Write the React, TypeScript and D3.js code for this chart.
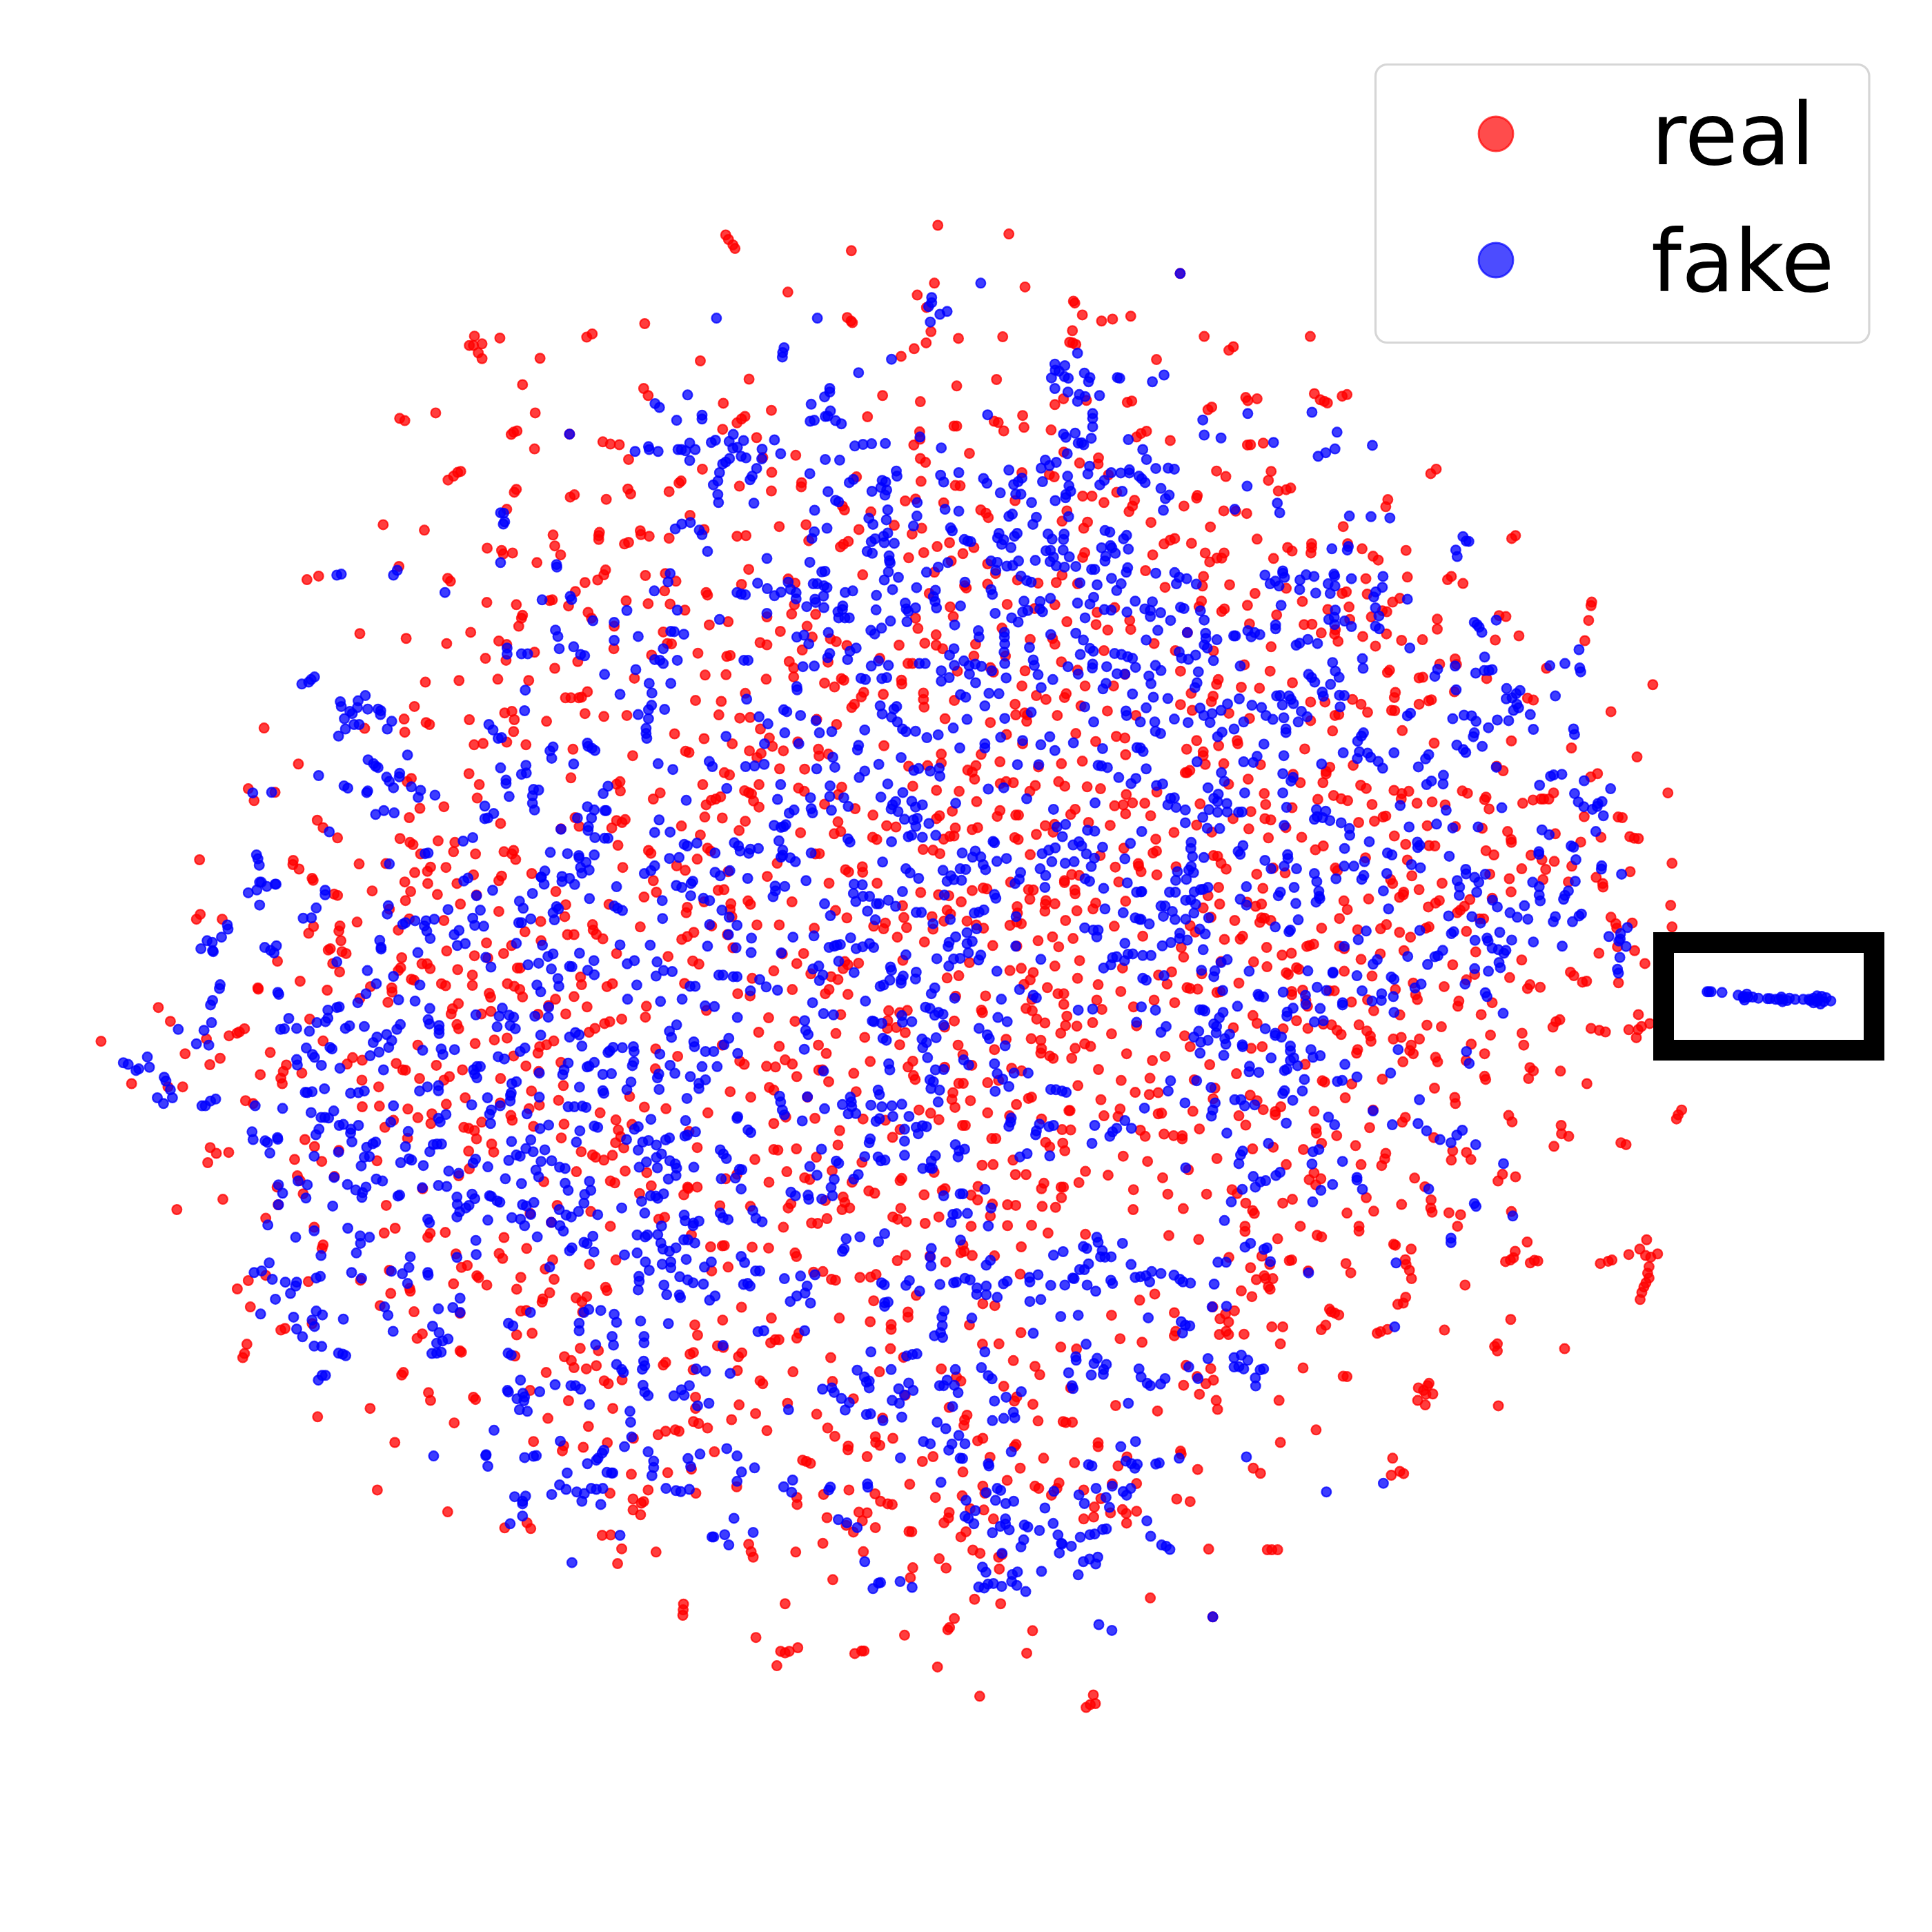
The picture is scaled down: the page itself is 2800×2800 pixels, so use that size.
import React, { useMemo } from "react";
import * as d3 from "d3";

const real11 = [1121,359,1106,388,1118,388,1143,383,1132,411,1143,429,1195,365,1448,362,1464,352,1312,428,1261,510,1298,598,1008,598,903,615,918,622,1245,654,1235,658,1228,665,1296,710,1495,688,1517,695,1543,697,1570,743,1081,780,1072,783,1060,795,1044,807,1243,836,1237,845,1400,860,1412,853,1505,867,1568,835,1215,898,855,946,975,963,1485,970,1483,980,1483,992,1350,978,1355,1012,1372,1040,1558,1006,1158,1019,1200,1026,1205,1037,1232,1034,1303,1064,1503,1087,1498,1102,1480,1118,1443,1126,633,1117,667,1106,901,1076,1043,1113,1051,1122,1415,1154,1157,1188,1243,1195,1340,1182,1348,1180,1395,1199,1563,1183,1452,1219,1462,1237,1261,1228,1258,1237,1250,1262,1528,1262,787,1285,922,1300,1040,1316,1110,1281,1192,1308,1215,1319,1296,1343,1153,1362,1213,1368,1422,1372,1527,1332,1355,1393,978,1436,1076,1431,1189,1427,1279,1431,1450,1466,1386,1485,1402,1485,1425,1485,1433,1483,946,1512,1209,1532,1230,1527,1237,1553,1443,1534,1498,1543,1565,1540,916,1551,980,1562,990,1568,1106,1553,1331,1558,1398,664];
const fake11 = [1398,664,1197,909,1206,910,1209,937,1205,944,1197,1064,1360,1070,1361,1078,720,1103,733,1100,885,1103,896,1088,1035,1157,1318,1180,1400,1169,1404,1179,1565,1213,1466,1245,1528,1250,1357,1274,1364,1294,1528,1306,1216,1330,1216,1349,1258,1348,1276,1348,1368,1332,1410,1326,1430,1350,1442,1354,1500,1412,655,1420,645,1428,638,1436,618,1442,803,1478,782,1494,730,1497,733,1512,758,1527,765,1534,780,1515,810,1520,840,1520,848,1525,847,1537,742,1550,880,1558,1269,1461,1267,1525,1545,1474,1163,1568,770,1568,785,1568];
const real12 = [285,44,293,58,306,75,312,86,651,93,903,14,1110,41,466,222,893,194,1157,206,843,231,1298,250,1302,256,1324,293,1380,312,1412,306,1465,297,49,320,639,301,650,312,654,317,870,270,883,345,963,366,1092,361,1295,342,1287,378,1296,380,1305,385,869,380,834,398,796,422,211,436,353,493,1074,494,958,514,1540,432,46,522,59,544,742,544,852,563,1269,554,1244,572,1336,559,1455,565,1468,561,278,568,418,590,698,610,1150,606,341,609,331,617,318,629,1067,624,1079,628,1095,654,1154,643,950,639,958,639,276,649,850,657,851,680,1233,651,1511,655,1495,662,1482,673,375,675,833,698,995,724,489,730,1270,720,393,737,852,740,867,752,1316,754,1371,738,1370,757,217,773,419,783,1148,784,1228,790,1242,797,1400,791,666,797,506,815,505,828,155,810,149,816,325,826,854,811,954,824,968,825,418,841,120,843,8,831,8,850,12,745,808,872,838,866,920,878,1325,857,1352,857,1128,871,1387,877,1424,845,1476,870,1470,888,1460,905,181,917,631,900,625,888,708,906,1028,900,1043,910,1050,924,1279,903,1339,938,1265,935,776,948,519,946,441,952,1524,939,222,961,36,965,38,977,62,982,318,982,344,980,120,988,1328,957,856,957,673,961,828,975,527,996,642,998,628,1007,619,1015,937,1002,1562,1006,2,1001,901,1014,1008,1017,976,1036,862,1033,1331,1033,1325,1048,818,1049,1529,1040,1048,1068,942,1059,352,1085,109,1098,51,1104,684,1102,893,1094,1071,1098,1508,1089,1265,1103,467,1115,487,1128,140,1122,331,1132,107,1152,228,1157,232,1165,1135,1118,1195,1128,1248,1126,1310,1130,1048,1131,981,1136,986,1143,1565,1141,878,1160,59,1192,123,1193,166,1212,485,1195,1105,1194,939,1202,1244,1195,1185,1207,1418,1204,1367,1219,477,1224,547,1225,405,1233,838,1237,948,1232,292,1248,237,1258,522,1262,1279,1248,1462,1244,1364,1257,845,1269,1090,1268,1465,1272,1398,1274,444,1278,103,1280,537,1296,590,1301,607,1310,898,1289,1172,1303,1237,1300,1244,1318,1013,1318,115,1316,127,1317,385,1313,405,1320,865,1315,638,1322,898,1321,917,1332,790,1321,1533,1316,508,1336,204,1346,1387,1338,69,1352,298,1353,288,1356,734,1362,1008,1355,1100,1355,470,1372,1263,1373,816,1378,829,1378,583,1374,483,1392,1056,1391,1065,1405,960,1402,1157,1401,1310,1399,225,1414,286,1413,19,1424,483,1420,403,1427,1448,1412,622,1425,629,1430,797,1430,798,1442,573,1439,602,1451,1148,1448,1332,1448,1415,1448,342,1471,687,1468,680,1482,744,1474,861,1470,861,1490,863,1514,1190,1478,1277,1472,1272,1484,1218,1490,197,1493,272,1496,951,1493,660,1505,652,1515,1128,1505,1320,1510,265,1538,326,1548,356,1546,1130,1538,1156,1532,1164,1538,1251,1540,1397,1526,924,1550,1480,1540,550,1552,1056,1562,608,1568,1162,1558];
const fake12 = [1028,194,885,239,885,255,876,267,930,282,909,291,881,315,258,303,552,303,455,395,451,410,450,424,1310,412,768,431,1244,446,1273,451,1245,465,1256,468,1330,474,1346,488,1234,489,1272,485,1283,490,1342,501,1426,488,1433,490,1528,501,1562,480,672,473,1244,522,1282,533,174,542,588,522,588,533,573,548,1315,541,1332,547,1374,544,1310,562,79,569,92,581,534,571,590,592,575,609,582,608,605,622,622,632,531,624,543,621,216,605,216,617,142,621,1048,604,1354,600,1354,615,1354,641,1269,664,1276,674,1303,661,851,673,1350,677,1458,681,427,682,307,665,337,684,180,692,255,683,243,690,295,687,1312,692,1322,691,1328,697,661,701,685,696,710,694,750,693,913,707,60,703,62,712,21,718,88,718,146,712,156,712,168,716,196,712,306,708,319,705,391,711,445,725,180,746,296,740,1500,712,330,733,344,738,390,741,285,751,276,757,575,743,617,745,1280,725,1216,745,1248,752,1511,743,267,784,375,771,1204,770,1228,762,1345,764,1538,771,964,784,1110,776,1340,788,1408,784,1436,785,1461,785,1461,775,1489,795,1497,803,1507,815,782,779,784,795,530,787,362,795,356,806,262,810,249,822,911,792,920,813,1036,802,1046,817,1148,801,1137,812,1124,821,1208,812,1281,795,741,808,751,813,645,815,657,805,1375,822,1388,808,1553,833,737,830,754,838,749,854,711,842,583,843,1085,847,1130,851,1145,851,1285,825,1290,842,1276,852,1440,842,1275,862,262,852,264,877,367,879,605,870,614,875,843,877,1245,871,1176,877,1566,865,544,901,757,900,924,898,964,904,1560,901,842,919,702,926,1120,913,1110,920,1190,923,753,931,714,945,1284,921,1180,945,182,939,157,944,138,959,208,963,216,977,832,950,940,956,945,965,543,968,580,957,1081,973,1134,973,1126,982,1224,975,1271,975,1390,964,1404,969,1453,979,1444,990,757,972,745,982,536,989,720,990,709,999,747,1002,776,1004,1077,987,1095,993,1089,1007,1116,1017,980,992,990,997,999,999,1236,991,1269,992,232,1029,697,1029,712,1035,1406,1011,1380,1018,1410,1018,1458,1022,1268,1025,1218,1027,1231,1026,1420,1035,1392,1044,405,1051,761,1043,762,1058,1240,1047,1390,1059,1286,1046,530,1063,764,1065,1058,1059,1076,1063,1230,1061,1187,1057,1138,1059,932,1064,1248,1074,1272,1078,1305,1076,1351,1085,1360,1085,1104,1075,1121,1073,1072,1088,904,1078,870,1094,1456,1080,1452,1094,565,1093,574,1091,759,1093,1538,1097,1145,1106,1162,1120,1175,1125,788,1110,747,1118,1409,1113,123,1098,117,1124,467,1125,378,1128,540,1130,552,1130,571,1136,580,1142,982,1125,1317,1127,1367,1133,1437,1130,771,1148,841,1142,406,1145,896,1150,77,1152,655,1152,446,1156,427,1167,490,1158,474,1147,1424,1151,318,1157,330,1162,342,1164,633,1157,1058,1148,1062,1163,570,1168,490,1177,724,1166,890,1170,1231,1175,1357,1172,545,1178,547,1188,808,1190,895,1185,899,1205,969,1199,1154,1184,1201,1185,1310,1190,1346,1193,1478,1184,1528,1186,626,1199,838,1205,1200,1208,521,1201,571,1204,1388,1210,1408,1212,1506,1208,1522,1213,1552,1220,723,1211,811,1208,817,1216,612,1217,144,1212,6,1207,1070,1222,1165,1213,1150,1218,1208,1217,1454,1218,405,1222,625,1210,614,1236,632,1236,645,1236,267,1241,1118,1236,1137,1249,1332,1236,1522,1232,765,1246,813,1248,952,1258,1305,1284,708,1275,719,1286,739,1268,1021,1276,1023,1296,1097,1281,1097,1296,125,1278,135,1279,163,1287,584,1282,30,1294,1232,1288,1544,1275,513,1290,492,1296,1327,1305,1510,1305,1098,1317,527,1317,103,1332,665,1330,950,1332,1346,1331,1356,1340,1096,1343,1170,1328,1418,1347,1438,1350,1456,1357,647,1340,937,1352,588,1347,1318,1350,582,1360,78,1366,93,1368,103,1378,144,1368,338,1368,350,1368,1181,1367,1470,1362,640,1366,1098,1378,730,1370,979,1370,1184,1384,1479,1390,1354,1380,849,1378,866,1378,994,1385,1012,1380,1030,1387,510,1388,543,1386,709,1386,759,1384,951,1384,1282,1388,1395,1388,1353,1392,23,1397,1537,1384,1553,1400,913,1401,1060,1401,1195,1413,1312,1411,1425,1410,1448,1411,995,1411,1013,1438,1102,1423,1238,1428,679,1424,692,1428,740,1425,754,1422,936,1422,913,1433,1518,1417,62,1440,125,1440,1393,1440,1524,1441,1384,1457,492,1450,493,1460,1204,1453,969,1475,984,1483,1052,1471,1081,1472,1470,1473,70,1470,346,1489,1531,1483,69,1508,60,1522,107,1521,30,1537,60,1550,1040,1510,735,1510,783,1512,1510,1516,454,1522,463,1528,741,1535,775,1520,503,1540,382,1544,1451,1526,1331,1513,1453,1540,1175,1530,1098,1549,768,1545,988,1552,1357,1560,1535,1560,1493,1560,548,1556,408,1566,785,1560];
const real13 = [41,164,111,360,420,360,196,392,183,403,432,538,449,557,461,562,470,567,513,546,527,541,232,550,238,560,265,554,122,588,133,580,12,684,237,698,246,697,283,692,787,773,771,787,147,779,174,796,306,780,298,808,327,841,350,837,363,832,91,855,89,863,52,888,168,903,203,904,235,911,646,868,640,890,516,952,129,953,265,991,1018,980,1007,989,25,989,12,994,74,1004,424,1005,424,1017,422,1034,354,1017,367,1028,529,1005,571,1021,603,1044,618,1056,699,1026,114,1034,169,1034,148,1050,162,1050,127,1062,313,1051,109,1107,582,1114,703,1109,831,1107,820,1117,865,1129,106,1137,185,1133,350,1144,259,1160,513,1160,525,1155,586,1162,103,1184,660,1187,681,1175,96,1201,237,1197,397,1185,170,1208,162,1216,533,1202,471,1210,322,1227,643,1217,630,1214,598,1233,535,1241,243,1255,402,1257,425,1256,790,1240,990,1232,970,1229,1240,1187,1238,1198,1231,1244,62,1282,452,1283,493,1273,491,1287,642,1286,790,1271,573,1294,747,1304,686,1306,959,1305,1028,1292,1220,1307,501,1309,306,1326,610,1324,138,1339,27,1338,228,1382,797,1380,842,1364,846,1381,42,1402,303,1402,651,1399,645,1406,748,1421,737,1423,934,1425,1108,1393,152,1428,147,1443,368,1438,219,1452,272,1455,1418,1444,73,1471,137,1480,132,1497,668,1468,665,1484,42,1506,421,1498,463,1498,543,1490,568,1505,773,1491,765,1494,737,1505,840,1466,76,1524,183,1533,243,1549,492,1540,503,1537,587,1530,657,1524,666,1525,1053,1486,1070,1492,1296,1528,421,1556];
const fake13 = [41,164,5,478,107,620,238,600,425,596,111,667,160,676,313,690,498,658,492,710,465,722,443,733,601,699,6,770,24,773,236,826,9,854,5,865,200,898,324,879,331,909,534,919,597,921,652,925,865,983,874,997,882,998,844,1025,848,1045,483,1021,528,1025,531,1014,340,1090,340,1097,25,1095,60,1114,38,1110,288,1103,345,1110,408,1102,431,1107,489,1100,491,1106,540,1114,632,1107,318,1122,303,1130,329,1137,390,1118,30,1130,88,1131,472,1130,492,1137,389,1148,436,1159,478,1160,630,1141,611,1155,605,1171,42,1203,52,1207,100,1214,335,1197,610,1205,493,1212,703,1178,620,1230,111,1243,13,1244,474,1241,490,1234,520,1246,491,1257,540,1263,962,1243,898,1250,906,1257,912,1265,920,1281,610,1262,621,1270,319,1258,319,1270,238,1276,258,1282,273,1288,248,1295,62,1282,115,1284,116,1300,148,1304,111,1320,120,1330,202,1292,197,1292,413,1303,441,1316,389,1315,379,1321,38,1342,86,1352,45,1361,65,1365,710,1330,1203,1335,138,1369,572,1363,928,1358,485,1375,216,1386,574,1393,1118,1385,1162,1378,1205,1392,1208,1404,791,1396,842,1386,927,1400,950,1397,940,1400,902,1408,94,1404,493,1402,415,1412,424,1422,504,1421,783,1418,433,1436,90,1438,84,1453,479,1443,845,1460,455,1467,458,1480,992,1456,1031,1462,1020,1472,991,1488,1008,1485,1134,1479,322,1479,332,1478,358,1479,364,1490,371,1503,505,1477,519,1478,213,1488,250,1508,339,1507,5,1487,179,1504,99,1517,278,1515,507,1513,134,1534,160,1524,110,1540,24,1551,64,1562,394,1527,291,1540,311,1552,343,1547,411,1544,385,1560,226,1560,1022,1505,1027,1516,1012,1524,1061,1537,712,1533,703,1541,835,1550,868,1539,890,1541,903,1558,965,1554,998,1556,128,1562];
const real21 = [33,986,508,11,801,12,918,24,980,2,992,6,1120,63,1146,59,1215,55,1235,22,1271,63,1408,77,608,123,1105,153,1402,166,937,168,925,178,1135,187,462,200,540,211,479,237,1545,178,1535,186,1546,207,1129,229,1032,256,962,261,931,290,663,298,680,321,722,353,1197,308,1414,290,1535,299,1560,296,1521,322,1426,317,1373,325,1551,305,904,355,933,367,942,374,1015,362,1064,367,1060,396,964,403,1124,403,1207,396,1235,392,1230,403,1241,420,1539,376,320,421,593,423,592,436,610,450,785,434,863,433,1038,445,993,444,984,457,947,461,1118,468,1553,445,1200,472,1192,486,1288,464,648,479,651,485,918,490,985,495,1070,495,823,518,935,520,1013,529,1127,531,1358,520,712,528,722,532,920,548,1080,559,1192,582,1387,561,1513,560,322,591,311,606,386,606,873,575,779,615,931,605,1032,610,1384,598,1314,613,652,629,729,627,726,643,638,650,899,640,1268,645,1465,623,1467,640,1476,653,1495,667,1392,654,1411,654,732,673,1315,673,1156,680,701,698,695,702,735,707,747,713,1040,705,1229,688,1206,713,1121,720,547,737,1160,727,909,726,1535,713,708,744,968,745,983,745,992,760,906,757,899,766,1254,758,1246,758,1072,763,728,770,1115,780,1430,786,937,793,945,796,613,799,490,820,491,824,692,827,1025,807,1037,813,1115,812,1217,807,1237,815,1253,825,1433,810,1523,807,1507,816,880,820,881,833,818,816,1164,837,1168,849,1261,848,787,853,1411,847,869,865,1357,855,1074,869,1057,885,1053,901,200,881,1337,875,1449,879,1306,902,1387,901,1169,893,1141,901,235,924,641,917,1550,917,1515,925,1500,931,1070,934,1075,947,1472,946,1455,958,406,969,429,961,436,957,451,947,340,979,1216,976,1179,982,1352,985,1331,997,1311,1003,1306,1023,1123,993,680,985,956,998,278,1025,526,1021,380,1039,1235,1032,350,1059,766,1037,750,1057,794,1045,893,1055,912,1075,920,1076,1010,1061,1373,1052,1271,1063,573,1060,564,1080,497,1090,618,1085,557,1101,561,1118,122,1118,271,1128,228,1128,1086,1075,1048,1096,1032,1107,961,1102,793,1107,842,1128,1197,1102,1308,1080,1380,1124,1287,1141,1094,1162,454,1171,476,1180,1366,1170,1196,1178,1039,1182,794,1190,844,1188,927,1197,1310,1185,1280,1196,1487,1209,997,1212,956,1224,1227,1217,1231,1232,994,1242,885,1232,1142,1238,860,1254,1533,1231,1382,1244,1293,1251,1540,1262,1090,1254,1104,1257,1121,1264,1127,1290,1547,1283,926,1288,627,1292,1374,1287,1532,1302,655,1314,351,1317,369,1335,405,1332,726,1326,1171,1306,1556,1318,1104,1328,1177,1331,1432,1330,344,1364,597,1354,676,1360,837,1358,1465,1340,1474,1347,1498,1356,1523,1341,1106,1383,1418,1392,1560,1390,605,1405,613,1420,713,1407,1075,1405,1517,1421,1530,1427,1323,1423,546,1440,970,1445,622,1461,864,1497,388,1478,254,1510,549,1495,1362,1497,1283,1522,1460,1516,513,1537,654,1565,890,1568,1517,1562,1345,1550];
const fake21 = [725,36,745,14,771,8,788,8,867,14,1165,7,1175,17,1190,43,1200,41,926,95,1346,105,1341,82,1350,70,1450,58,1452,68,1463,74,1472,81,811,110,827,122,833,130,840,134,1197,135,1271,127,1410,123,1258,155,1272,151,667,159,903,152,902,163,865,164,873,177,1213,173,1213,184,741,191,752,198,885,197,937,194,964,205,810,207,807,212,1006,220,1222,224,1293,202,1308,204,1290,222,1496,215,1510,192,475,213,530,211,957,227,1290,245,1151,254,1296,266,1177,277,1160,291,1151,293,1450,256,1470,266,1501,268,1505,268,1421,291,1462,291,857,268,833,280,887,275,698,334,1373,326,1453,318,1452,330,1472,352,1500,354,1510,354,1116,352,1088,363,986,400,977,402,1342,398,1392,402,1425,408,1426,415,1470,406,486,406,490,418,494,438,873,434,1446,429,1430,445,1455,453,1434,463,1326,456,1315,475,1376,473,1398,479,1376,489,1413,498,1324,497,1316,475,1102,478,1090,487,495,491,500,491,516,504,540,497,543,497,487,515,462,524,686,516,686,530,1174,516,1290,526,1535,505,1127,533,1252,550,1456,542,495,562,870,564,660,571,1263,572,1044,576,1138,578,1360,567,1366,574,1528,565,1538,572,1552,579,1350,586,867,590,622,603,646,602,1004,606,948,611,980,611,1116,603,1354,608,1250,617,1258,617,1285,605,920,617,912,622,975,627,982,643,1122,625,1148,628,401,624,403,637,384,662,1076,641,1062,654,342,673,357,678,324,698,358,704,360,707,992,666,845,672,849,694,849,699,1094,682,1071,688,1243,681,1319,687,1545,686,510,694,544,689,527,703,537,711,956,710,1427,712,1350,714,1335,722,1154,725,720,739,1469,735,1277,748,1308,743,1169,755,1398,753,1405,754,1345,761,1451,765,1470,779,1566,745,809,766,885,784,1364,791,1367,815,835,807,805,838,962,811,1303,811,1314,832,380,810,378,822,548,834,551,840,781,866,358,859,352,873,900,857,948,861,1567,855,991,884,1337,880,727,879,694,889,720,881,1202,883,580,915,694,914,687,925,662,928,1125,904,1193,908,1222,905,1235,911,1297,908,1336,911,986,919,990,932,355,928,905,934,895,949,1018,937,1018,950,1187,941,1225,937,1240,947,258,949,556,949,567,947,603,946,640,955,745,946,757,938,800,940,333,952,1018,962,865,965,837,973,1415,959,1426,966,1398,973,1314,967,826,990,880,984,871,1005,311,994,347,998,1434,1001,631,1007,700,1005,706,1010,1024,1010,1063,1012,970,1014,1029,1027,1268,1007,1254,1018,1525,1005,1552,1006,1510,1021,1515,1016,603,1043,605,1060,649,1027,655,1036,843,1020,817,1031,1190,1034,1208,1041,168,1035,174,1067,98,1053,112,1058,143,1072,135,1077,675,1061,729,1070,856,1075,1128,1065,1138,1065,1118,1075,1122,1088,1128,1100,1394,1054,1382,1075,1378,1090,1470,1052,1449,1066,1455,1064,1310,1085,1495,1089,1520,1087,217,1098,222,1110,235,1137,241,1162,197,1162,215,1180,684,1134,628,1145,634,1146,648,1143,760,1148,783,1146,800,1141,984,1128,961,1141,1016,1124,1016,1140,1230,1118,1243,1112,1427,1129,1228,1147,1226,1155,1225,1172,1310,1160,1495,1140,1498,1148,1565,1137,367,1166,352,1172,337,1187,327,1187,482,1187,562,1195,885,1187,1159,1162,1113,1184,1196,1187,1170,1200,1394,1190,1412,1190,1435,1188,1446,1192,645,1208,711,1203,1165,1213,674,1223,685,1223,696,1225,1274,1212,1038,1214,1016,1226,1021,1237,877,1238,727,1248,739,1245,783,1248,1168,1242,1337,1247,1312,1258,1470,1250,1480,1254,668,1260,659,1277,761,1260,760,1272,928,1267,1428,1265,1564,1292,473,1268,476,1292,511,1296,518,1301,547,1286,548,1291,1285,1293,1229,1298,764,1299,825,1305,833,1300,807,1316,920,1314,1001,1308,1012,1306,1025,1306,1418,1300,525,1334,991,1330,1271,1320,1326,1324,1292,1330,654,1344,725,1331,1243,1340,1254,1344,800,1347,815,1345,1124,1353,1221,1357,1315,1360,1346,1358,791,1374,906,1364,930,1352,938,1356,972,1373,1117,1365,1160,1377,1369,1378,1385,1382,1046,1390,1075,1397,1300,1387,1308,1408,1211,1414,835,1415,853,1421,607,1421,712,1410,1258,1429,1385,1428,1456,1422,751,1432,634,1433,805,1440,775,1449,795,1457,969,1442,1016,1435,1040,1438,1394,1450,550,1433,562,1459,1460,1450,1442,1463,898,1468,903,1465,793,1472,1114,1462,1122,1476,1070,1471,1165,1467,1170,1469,1187,1483,1195,1487,1440,1490,630,1474,1071,1494,1105,1497,1096,1505,1261,1495,1294,1488,1272,1499,708,1499,550,1495,1550,1505,1078,1517,1070,1533,1368,1510,1424,1516,1480,1526,1388,1527,1403,1533,1285,1525,985,1540,990,1551,1160,1543,1230,1535,1255,1540,1345,1550,519,1558,1267,1560,1370,1560,752,1568];
const real22 = [136,29,222,44,14,97,168,83,178,87,304,60,354,82,386,14,412,42,421,68,388,90,376,103,453,82,495,54,555,77,557,98,584,92,746,66,605,10,1423,37,1448,42,1363,53,1305,28,1103,31,1150,60,1029,93,1450,94,818,130,913,92,913,120,873,128,1324,114,1084,116,1263,122,1196,132,281,150,296,157,442,138,515,139,990,142,1014,128,1003,148,1010,170,218,187,382,187,497,198,514,208,830,192,623,195,1187,190,1255,178,1273,192,1338,194,1377,200,1102,178,1085,184,1123,181,94,213,74,232,340,206,352,212,360,216,366,238,382,257,270,225,256,232,243,236,228,250,613,218,899,205,965,208,1171,208,1016,240,1541,210,1452,218,573,248,662,262,1418,253,1443,250,1470,244,1506,245,1303,264,714,282,945,270,1084,268,1076,286,1130,282,1138,282,1290,280,224,288,275,291,342,301,908,284,899,293,1523,284,612,303,1450,278,156,316,324,330,754,315,781,319,954,322,1342,305,1405,314,1003,327,1019,321,1216,315,1243,311,601,340,620,333,503,337,211,344,938,348,950,347,920,357,1190,342,1239,335,1127,352,1137,358,713,351,725,358,1538,357,60,392,67,401,232,385,241,394,860,389,889,391,909,402,1172,405,1376,408,1445,385,1530,400,1540,394,558,402,546,403,202,419,435,432,142,440,167,454,634,452,643,459,683,443,684,460,1487,433,1488,441,1495,458,1420,444,292,458,406,473,1541,468,74,486,586,494,726,494,1293,467,1272,486,1272,492,1315,470,1115,491,1430,490,83,522,47,537,263,516,280,514,853,523,905,530,935,533,1003,517,1035,509,1046,512,1167,514,1181,515,1302,515,1303,527,478,552,350,549,357,560,971,552,1171,544,1450,550,1218,548,1216,560,1244,558,1363,556,300,558,173,569,170,586,222,552,605,579,800,564,1355,574,930,578,940,590,1134,567,1135,587,1215,581,1308,580,298,576,303,598,886,598,804,601,638,602,988,612,1015,624,1036,634,1113,625,1146,620,1133,615,1275,610,921,612,750,618,716,628,745,636,812,632,889,637,1417,628,36,630,244,627,376,624,441,624,543,634,192,647,173,660,157,669,290,654,1237,661,1195,673,1063,688,1297,666,1133,690,785,662,1500,659,864,677,306,695,1255,692,117,722,450,714,512,713,189,736,207,746,801,734,995,741,1316,735,492,744,632,738,641,748,627,760,672,743,1244,752,425,767,1113,766,1146,759,1441,758,533,776,592,785,612,794,362,790,1181,772,1172,795,1310,790,1546,780,930,789,964,782,165,806,1154,809,1370,810,1222,819,479,825,320,838,356,845,586,825,575,838,641,840,1436,831,955,846,1253,838,1270,838,1042,845,1177,856,1533,858,1366,858,54,877,1270,871,229,890,1160,884,1178,891,1381,887,1030,889,1033,897,1473,879,51,911,410,913,620,903,760,891,792,897,814,890,1191,917,1279,908,487,924,951,923,757,922,1215,929,1275,937,1354,928,1308,939,756,946,782,943,381,958,606,962,808,959,1261,961,690,974,923,942,1409,963,1175,978,1203,983,1482,938,441,1002,792,997,962,998,1102,980,1331,994,1348,1002,555,998,275,998,1205,1009,1203,1023,1303,1008,81,1010,578,1024,976,1028,1068,1012,1229,1032,1239,1039,1293,1039,145,1033,326,1048,339,1058,1453,1025,706,1049,830,1048,458,1044,479,1057,404,1064,430,1066,1002,1061,923,1067,816,1066,80,1072,556,1076,567,1075,658,1086,832,1093,837,1105,492,1096,1118,1070,1147,1078,1371,1074,1528,1046,585,1112,964,1117,977,1117,1048,1115,1080,1108,1437,1108,1521,1101,1565,1033,412,1130,425,1138,665,1143,298,1143,947,1146,944,1167,1311,1124,5,1158,358,1160,523,1160,998,1171,1167,1164,1176,1160,1478,1145,1519,1152,1545,1146,1378,1168,48,1191,111,1196,953,1192,1132,1183,1434,1197,233,1209,848,1200,882,1210,1048,1209,1285,1202,1288,1202,1387,1218,1428,1220,1545,1212,1555,1210,906,1230,685,1228,545,1226,460,1222,750,1232,1112,1218,1205,1228,425,1242,12,1245,983,1248,975,1248,178,1267,617,1264,793,1261,1290,1262,1265,1261,1493,1263,1507,1282,1562,1275,771,1285,1060,1289,1072,1289,612,1309,1217,1301,1229,1315,1267,1303,1273,1327,202,1317,425,1323,437,1325,491,1321,549,1347,682,1363,370,1354,1443,1344,1514,1360,1122,1356,1032,1372,1064,1370,55,1395,463,1392,595,1389,1333,1391,1129,1401,1160,1401,1399,1403,285,1414,515,1411,530,1416,318,1400,411,1425,653,1425,798,1413,793,1420,892,1394,68,1436,174,1440,176,1444,202,1440,1212,1428,1205,1445,1262,1440,1269,1440,1314,1426,1020,1438,1558,1411,34,1460,163,1464,702,1452,719,1459,863,1464,924,1445,916,1451,1000,1465,1019,1480,1473,1448,1263,1473,575,1482,627,1471,632,1488,646,1505,624,1510,268,1498,475,1492,467,1505,357,1500,795,1506,1062,1493,1106,1495,1130,1497,1207,1500,1246,1503,1472,1510,1056,1530,90,1540,107,1534,772,1533,786,1540,906,1533,580,1538,535,1552,553,1553,811,1548,866,1553,1176,1559,1106,1560,1000,1562,453,1565];
const fake22 = [53,12,53,28,55,43,286,37,457,26,407,5,594,22,558,26,690,17,800,14,810,22,838,21,871,41,904,32,948,11,1086,40,1150,50,1229,38,1040,60,1040,73,1203,63,1298,57,1383,75,1483,72,1493,73,1501,84,1537,21,1552,28,672,65,669,79,498,60,398,60,967,73,1244,81,237,115,246,131,88,122,131,140,343,131,369,129,397,124,597,102,603,133,796,103,731,124,1135,125,1197,125,550,138,690,145,674,165,833,143,847,137,881,145,907,136,909,161,1370,127,1380,129,1397,134,1510,138,1430,165,1466,184,1480,168,1540,190,1558,185,288,199,445,187,589,191,757,185,1050,201,1095,197,801,212,170,236,436,233,532,228,629,228,642,255,737,226,588,224,1162,231,780,240,771,250,827,239,838,257,858,250,955,245,1361,244,1240,264,767,263,484,266,470,276,534,262,538,275,593,267,787,271,91,297,806,295,843,292,832,297,877,308,426,314,460,312,446,320,454,318,1275,311,1250,319,839,317,1339,329,1360,332,78,336,123,335,1266,349,1497,333,827,345,817,349,858,351,897,345,440,362,641,356,647,366,768,365,1064,364,1068,368,164,373,173,378,201,369,310,368,322,378,327,394,357,388,380,386,1314,365,1297,375,1322,378,1464,370,1383,382,451,391,352,401,254,400,451,407,534,400,974,400,1012,394,1004,413,1028,412,1207,402,1226,391,1245,384,1336,403,1359,416,1448,418,1035,436,1042,452,121,417,149,414,473,415,488,427,446,413,1075,426,1103,417,1235,427,1274,432,1300,427,1350,442,742,428,78,440,67,455,48,464,254,460,297,455,269,471,810,449,822,462,918,454,968,449,984,451,941,471,1201,449,1217,470,1144,461,349,479,847,479,519,486,189,488,141,501,157,507,184,495,659,497,683,499,950,483,930,488,972,485,1140,482,1128,495,1332,480,1345,488,1455,493,429,503,457,504,430,518,1215,507,183,533,800,520,657,526,685,535,704,535,1386,510,1482,522,1495,521,1497,520,423,536,922,531,1068,529,1072,541,220,541,238,548,100,548,573,558,664,551,759,547,724,558,732,558,780,566,1553,565,274,578,1009,587,1023,584,1037,577,1390,574,1565,565,698,581,840,585,855,585,590,595,1443,586,295,600,101,604,939,607,1478,602,1490,606,1495,607,1560,597,721,608,889,620,1519,621,238,623,318,625,1331,633,1356,640,1370,640,1131,598,293,654,988,648,1016,636,481,662,542,658,649,664,955,661,1366,661,360,665,936,678,1003,675,988,682,65,687,232,690,1448,681,1130,690,586,694,601,690,609,687,619,685,665,698,684,692,704,682,716,694,933,691,315,695,1557,689,359,710,992,711,447,711,1028,718,810,717,900,729,949,730,968,728,1022,733,1203,731,1412,726,1424,723,1457,715,1471,714,1500,719,1524,719,1447,735,7,740,19,735,85,739,614,737,935,752,1386,758,539,761,556,752,82,783,104,766,129,769,659,772,765,755,768,765,1075,768,1407,748,265,780,277,780,307,785,318,785,568,780,558,797,1500,790,1510,796,1562,782,26,811,384,794,802,783,796,795,796,805,763,796,840,771,838,792,745,811,735,815,181,815,196,815,403,817,436,827,357,829,894,820,884,838,1141,825,158,855,95,862,7,855,538,866,692,861,952,852,1181,843,1190,851,1088,855,225,876,252,878,1312,889,1354,886,1496,879,1537,889,867,880,880,884,894,905,905,896,918,902,570,900,599,904,319,912,798,906,1078,912,515,922,712,923,717,925,740,930,800,927,827,925,920,936,1105,925,1482,927,1568,940,142,935,518,952,525,965,1023,946,1553,958,1047,966,1053,978,121,955,127,974,743,977,753,983,857,979,898,975,870,990,859,1006,192,988,294,977,280,997,194,1003,16,1003,18,1018,1099,1000,514,1011,226,1018,250,1018,93,1026,320,1024,873,1037,17,1050,13,1062,978,1044,993,1060,760,1056,123,1061,216,1065,260,1065,1068,1056,763,1075,896,1075,920,1074,90,1088,137,1086,86,1100,182,1096,570,1079,1076,1087,1125,1085,1166,1085,226,1106,1092,1104,880,1106,890,1112,9,1113,207,1117,91,1136,207,1133,883,1133,908,1138,1110,1127,6,1137,1232,1136,1247,1137,1265,1141,1277,1145,1070,1142,729,1138,733,1152,442,1157,172,1164,523,1159,445,1175,648,1160,651,1175,904,1175,708,1185,625,1183,652,1190,740,1190,769,1187,798,1182,573,1196,450,1200,456,1215,1505,1194,642,1212,664,1211,772,1220,819,1220,67,1229,168,1233,320,1221,318,1226,508,1234,723,1235,733,1227,1117,1225,1448,1233,1467,1257,1115,1238,1110,1251,1199,1244,1240,1248,1227,1252,1360,1248,30,1252,19,1260,1190,1265,1188,1277,1424,1257,1412,1268,840,1254,858,1249,870,1252,806,1260,846,1274,197,1268,173,1278,166,1281,350,1262,358,1270,1404,1282,60,1295,43,1300,121,1287,110,1293,706,1290,703,1302,806,1297,83,1309,1352,1304,954,1308,269,1324,278,1337,287,1351,965,1327,981,1322,564,1322,30,1325,98,1337,83,1348,1163,1336,1142,1346,896,1342,806,1341,690,1345,729,1346,962,1346,1229,1343,737,1358,749,1356,122,1358,607,1359,614,1366,884,1359,54,1362,138,1368,33,1378,86,1380,192,1378,142,1381,530,1376,332,1386,859,1382,880,1380,887,1382,325,1385,140,1404,551,1403,671,1401,118,1415,272,1414,313,1412,658,1415,601,1416,330,1446,592,1441,1040,1447,475,1456,488,1467,525,1465,104,1461,66,1467,81,1468,87,1475,527,1478,565,1477,596,1467,920,1467,968,1461,976,1461,40,1484,1058,1505,364,1513,49,1521,164,1527,269,1521,167,1545,207,1546,191,1552,277,1535,292,1541,373,1537,391,1548,958,1523,947,1525,989,1522,942,1550,98,1561,190,1560,1050,1561];
const real23 = [688,19,485,20,89,50,207,50,209,60,60,77,153,66,404,76,108,85,108,97,781,58,1006,51,1181,73,114,124,168,122,1372,101,275,125,545,127,477,133,466,146,466,154,69,143,61,150,56,150,982,144,963,130,1257,153,1237,163,239,170,370,155,391,181,182,186,457,181,567,189,583,199,664,205,707,208,687,215,863,207,878,214,1462,213,1129,213,1115,232,1100,232,1092,232,1069,235,286,215,488,221,510,231,529,237,442,233,932,226,928,234,685,232,99,247,290,249,600,249,731,245,775,241,813,250,1039,245,367,259,941,263,247,271,640,285,632,288,1218,287,1317,288,1329,290,288,293,305,297,195,293,607,301,561,305,89,313,241,325,349,321,761,315,843,318,921,323,23,336,133,335,995,333,1134,340,395,351,298,353,665,347,1267,351,1351,349,1364,354,1376,355,1005,358,1006,367,698,373,766,377,783,378,458,378,435,390,932,393,955,406,1063,407,1208,366,138,408,150,410,581,415,703,422,160,432,175,450,29,443,312,447,347,462,1095,421,1131,426,1106,451,1036,449,493,447,499,455,1474,432,1182,441,264,466,716,471,943,466,1352,458,1253,476,654,483,660,495,804,494,1000,480,1098,483,1172,490,1272,495,1273,506,153,507,282,510,1005,521,737,514,692,522,691,530,680,538,122,533,156,559,236,553,278,559,261,566,518,549,590,543,885,545,950,541,869,566,857,578,848,586,796,548,785,556,764,568,108,571,528,576,1470,563,200,610,278,602,287,603,305,610,273,616,131,600,505,604,1296,600,1358,618,1310,620,1313,634,925,605,913,605,70,626,453,634,642,623,625,636,558,639,1474,630,766,630,757,634,85,646,680,647,875,644,223,659,216,668,170,669,712,662,430,684,418,688,410,691,44,694,293,694,505,690,519,698,1315,692,1365,704,51,724,338,718,365,712,624,714,693,704,902,708,1261,712,568,731,160,738,255,739,1036,733,1395,744,835,748,294,754,380,757,387,762,519,768,16,770,104,776,350,773,356,778,1178,771,1188,782,1001,788,600,783,899,778,875,795,1213,802,1225,799,1318,804,212,805,1060,810,1053,822,1090,818,61,819,70,822,92,824,810,816,720,805,3,808,366,831,366,841,398,827,475,829,490,829,148,834,158,832,668,825,727,841,732,856,25,866,407,859,412,877,587,857,540,864,853,861,850,877,950,866,605,891,681,904,918,903,1376,903,1409,931,1147,919,1136,925,1127,942,380,922,253,906,265,930,196,944,413,946,341,947,562,935,760,936,802,941,458,933,482,935,498,952,510,965,585,954,595,970,1238,946,1262,952,1280,957,1348,950,1385,940,1375,950,54,969,685,974,662,979,597,986,945,967,1037,961,1370,975,738,979,70,1003,248,1008,280,1003,714,998,889,995,1042,998,8,1034,558,1012,555,1023,710,1015,720,1025,785,1036,928,1025,791,1050,874,1046,127,1059,690,1050,405,1058,205,1087,1070,1078,1060,1068,1149,1079,928,1095,931,1105,1056,1102,82,1106,455,1109,462,1113,630,1104,541,1119,1226,1118,142,1132,782,1132,245,1154,522,1162,265,1171,137,1165,841,1161,843,1180,78,1204,283,1199,334,1190,431,1204,318,1205,318,1215,212,1218,603,1200,1502,1200,1492,1215,1487,1228,998,1217,1008,1237,697,1223,688,1238,232,1247,97,1259,22,1280,47,1280,4,1278,47,1290,437,1258,438,1272,593,1255,497,1280,1151,1248,1152,1274,1173,1282,1325,1302,1340,1308,1130,1313,780,1286,252,1321,453,1304,312,1316,552,1311,400,1323,835,1327,875,1332,888,1354,831,1356,640,1335,637,1352,628,1373,148,1351,350,1370,568,1370,65,1386,980,1400,1018,1408,967,1421,431,1396,724,1412,417,1417,451,1414,436,1433,754,1439,192,1448,207,1460,5,1462,118,1462,368,1478,583,1473,772,1480,232,1490,686,1494,340,1490,50,1507,527,1521,605,1515,252,1513,257,1522,771,1505,775,1518,824,1520,858,1526,1006,1516,230,1562,391,1562,562,1562,849,1562];
const fake23 = [198,14,349,14,349,25,163,24,150,38,1190,31,1187,14,1070,15,939,10,898,26,895,38,575,26,569,36,558,52,285,61,873,87,847,64,866,78,921,68,664,88,563,85,557,106,516,88,587,89,596,102,343,97,765,94,756,107,618,115,631,136,90,116,226,116,265,99,254,118,453,123,735,132,962,133,161,150,1129,157,1120,161,1153,155,808,158,807,185,340,153,370,165,364,176,170,177,759,187,773,176,1088,189,1218,175,122,197,1295,200,152,217,340,213,229,213,1190,215,13,230,24,228,139,230,150,240,1201,241,1270,240,1258,246,1242,264,1217,256,1256,255,682,252,177,246,351,258,978,259,438,265,465,270,29,258,5,250,56,266,816,267,125,265,107,289,150,273,178,272,211,273,221,272,1274,284,432,295,440,287,456,290,477,299,56,306,510,306,344,314,120,323,156,324,788,310,708,319,534,324,835,322,909,319,1095,328,1116,343,535,345,1252,333,73,367,72,386,224,377,210,395,216,404,592,365,732,366,739,376,733,383,520,386,1180,378,1187,382,77,411,110,414,825,410,645,400,658,406,1086,396,1086,404,288,423,354,405,355,417,578,427,547,441,519,441,1194,421,715,436,741,446,73,442,344,441,380,449,306,449,33,458,80,461,66,453,873,451,874,465,1269,440,1268,450,432,464,643,464,899,476,930,466,1327,466,576,470,495,480,28,485,59,482,570,482,848,486,1068,491,1192,488,911,491,439,489,855,506,1087,505,905,522,1087,531,1090,549,1172,518,1162,532,1158,544,234,505,373,507,122,507,10,522,27,522,82,521,100,514,108,513,445,519,633,518,333,522,327,533,446,535,437,553,448,542,854,532,216,544,951,547,57,547,72,546,86,560,965,568,378,557,234,562,8,563,648,574,1044,564,18,582,81,587,1002,586,1023,600,1054,606,823,596,891,598,1134,598,1128,614,1184,614,1210,590,1203,596,26,607,57,606,385,608,124,602,916,618,318,630,98,637,1344,632,1324,651,1323,668,1319,674,1290,660,40,650,39,666,14,679,62,671,114,652,583,643,838,645,831,651,739,641,358,645,972,647,362,640,560,670,900,672,935,665,938,674,1007,671,1070,677,1154,690,519,691,108,701,950,696,968,701,990,703,984,712,1340,691,806,703,792,720,783,723,704,722,615,732,603,746,178,732,160,741,1322,725,762,747,970,741,974,757,899,760,1315,762,1318,774,142,767,103,765,139,785,242,768,413,767,486,771,486,774,939,768,556,782,656,786,664,793,871,808,440,818,467,828,743,808,725,820,165,828,571,829,341,833,268,840,271,846,284,848,628,838,627,859,662,847,930,835,935,847,406,843,600,861,407,871,514,866,514,873,208,877,98,888,107,888,113,892,449,884,664,896,982,899,166,896,370,883,353,895,352,908,155,913,139,932,147,940,6,944,458,922,432,926,289,947,95,955,146,960,185,964,318,961,318,968,336,973,81,973,171,978,101,989,122,983,174,995,222,997,223,1003,99,1023,168,1030,362,1001,362,1016,422,1012,428,1036,449,1031,372,1038,362,1046,676,1012,875,1018,306,1038,883,1055,521,1058,243,1064,242,1081,270,1083,352,1073,345,1077,383,1062,654,1085,13,1109,89,1109,403,1105,499,1111,513,1108,556,1097,397,1141,131,1130,738,1168,345,1140,340,1149,6,1141,200,1168,218,1168,229,1187,258,1184,369,1170,143,1178,55,1178,136,1200,132,1219,603,1203,473,1222,491,1246,350,1241,659,1246,734,1242,759,1265,798,1292,830,1302,847,1278,863,1263,902,1308,177,1272,298,1304,223,1328,217,1340,212,1367,445,1323,428,1330,425,1368,514,1360,983,1367,57,1380,254,1407,332,1394,320,1404,290,1420,275,1424,260,1440,556,1410,556,1418,572,1447,222,1447,485,1432,451,1450,765,1446,190,1486,427,1486,898,1491,903,1500,170,1544,1010,1530];
const real31 = [680,52,677,63,789,162,858,15,891,8,985,28,992,16,1036,13,1207,29,1067,80,1100,116,1083,122,1193,79,1203,94,1273,63,1349,99,1533,99,1456,112,1327,127,1128,148,1133,154,1256,153,1157,177,1060,173,873,131,1353,159,1244,190,1340,201,1320,220,1318,230,1503,184,1507,194,1417,217,1448,213,1434,229,462,163,513,147,637,166,430,189,877,203,932,187,934,196,846,241,468,245,945,260,1079,265,1256,258,1272,256,1436,261,648,297,557,317,569,312,969,329,954,343,1244,332,1289,327,458,361,451,390,446,403,1079,382,1083,386,1429,374,1482,381,1239,398,1383,400,1403,412,1411,434,1447,438,1476,428,914,449,909,457,1330,449,1499,475,1511,484,1551,472,1283,505,987,512,993,536,1118,526,1124,533,1395,537,1524,561,817,561,664,587,1335,592,1062,606,1453,617,889,667,1293,664,1381,677,1377,693,1508,668,1438,682,838,815,1516,825,1043,883,1274,917,1209,933,1285,935,1493,956,1518,955,1550,998,1538,1044];
const fake31 = [600,28,654,8,753,10,788,24,815,28,789,47,777,77,1125,38,1304,27,1380,9,1466,25,1440,44,1449,48,1405,61,1398,70,1469,74,1558,83,674,85,934,89,1070,91,1126,82,523,108,479,138,501,133,532,159,570,168,603,168,600,180,660,155,672,150,763,138,792,156,879,134,930,122,911,142,985,138,986,146,1340,121,926,172,585,203,541,221,1079,218,1016,251,1058,247,1079,262,1284,262,1454,253,1489,256,1440,262,1528,268,1535,293,660,258,678,270,498,267,594,277,648,286,655,306,739,283,859,245,869,271,1426,296,1220,296,1233,304,1426,319,999,305,1018,325,603,314,620,338,884,321,1522,337,1044,345,1028,351,1011,358,676,368,654,367,1474,363,1526,364,725,389,737,392,746,397,997,390,1011,389,1024,386,1219,389,1228,395,1535,424,1550,440,1555,449,1255,473,1402,490,1415,490,1356,487,1430,501,666,473,677,458,687,458,1217,505,1220,510,1262,514,1311,509,1245,531,1267,525,1265,537,1252,565,1275,570,1456,549,1178,629,1371,663,1498,691,1493,700,1481,716,1476,722,1558,680,1002,709,1155,705,1154,708,1267,714,1293,710,1301,708,1450,733,1160,741,1507,760,1520,762,1524,762,1391,762,1369,799,1388,813,1461,810,1476,813,1495,810,1419,821,1441,826,1346,829,1434,850,1238,836,1270,834,1261,850,1261,858,1489,860,1261,896,1225,920,1545,956,1405,1041];
const real32 = [185,21,241,58,275,55,281,54,362,59,410,62,487,77,491,88,292,121,244,133,1146,58,809,84,785,101,880,87,926,105,976,52,980,72,970,76,1003,85,1068,86,1224,15,1333,19,541,137,568,135,593,159,605,162,676,153,707,152,723,144,1143,143,840,209,1491,224,1535,205,1034,235,1069,241,331,246,716,226,816,261,816,277,418,280,276,286,616,280,195,301,767,300,767,315,706,291,203,333,995,301,1409,271,498,327,492,342,416,357,429,347,440,347,1145,325,1033,361,1081,360,1434,344,1498,355,261,366,278,371,765,375,332,388,322,400,181,392,191,387,1307,376,1261,370,591,403,803,402,110,418,103,426,1123,412,190,441,319,443,481,447,733,447,913,438,1186,430,1200,456,957,463,970,476,385,475,393,484,596,477,1095,492,1290,497,197,526,657,531,1133,525,1126,538,1180,548,324,550,197,561,465,545,372,577,550,579,808,520,1421,552,936,558,302,596,191,602,206,608,232,622,1543,569,988,582,981,597,979,614,1195,600,1268,602,1276,605,1295,604,742,591,582,622,138,628,149,632,110,632,88,643,405,630,603,648,721,649,772,654,1034,654,1019,662,16,654,722,667,734,676,642,678,641,690,1131,673,1126,680,1370,668,1370,680,252,696,697,711,889,711,858,726,1055,713,1211,716,1301,730,1454,712,1428,740,509,722,520,726,532,732,1143,747,976,759,116,761,185,750,10,766,1105,785,59,815,198,825,317,805,1256,793,1250,810,1186,803,1197,810,1411,796,1482,795,570,829,644,815,720,827,821,797,1034,803,1040,825,1328,815,492,838,736,850,757,858,770,860,896,838,974,833,15,843,46,851,39,856,493,860,1234,831,1378,842,1359,868,673,884,697,886,15,877,37,892,1037,877,997,873,936,885,1441,876,1452,888,1406,886,1482,881,580,901,683,911,934,902,921,917,1065,905,1328,905,1357,899,1453,918,636,925,657,946,721,932,819,944,827,945,985,945,970,961,82,1008,352,984,359,1007,365,1024,568,981,489,1008,686,1007,1005,1002,1026,1012,1080,1024,1090,1016,907,1029,830,1057,927,1058,1082,1061,823,1088,597,1094,1010,1155,1086,1169,458,1169,162,1170,161,1188,160,1205,1522,1151,951,1215,937,1243,932,1250,373,1274,806,1267,1179,1253,495,1306,445,1317,458,1322,470,1317,661,1324,681,1316,688,1316,1162,1323,434,1362,902,1366,1025,1457,1356,1453,1362,1480,1335,1492,1347,1483];
const fake32 = [27,21,50,27,87,20,57,21,96,46,163,36,175,36,195,46,102,65,121,72,140,61,27,77,330,88,340,107,51,105,100,112,125,105,125,123,170,97,223,121,243,105,62,131,32,150,33,165,30,192,151,151,174,161,190,170,220,174,105,177,113,207,150,208,153,216,254,211,238,224,372,133,384,133,456,157,503,149,545,145,337,175,349,172,356,180,522,180,516,202,492,211,473,228,532,233,636,33,676,27,748,17,730,42,630,64,625,72,884,63,881,90,883,117,969,37,1044,115,1056,100,1300,157,1268,73,1240,84,1327,57,1337,63,1382,70,1441,47,1366,28,1370,44,1377,89,1390,90,1408,89,1466,113,1316,129,1342,111,1330,129,1478,153,1493,151,1509,148,1526,135,1553,141,1170,153,1195,145,1171,167,1296,155,1232,178,1273,177,1338,177,1407,162,1412,172,1520,167,739,170,747,176,820,163,810,178,850,196,909,175,949,170,957,168,982,156,997,161,1094,173,1105,165,1017,186,1044,180,1016,206,1044,207,1076,215,1171,228,1203,222,1363,196,748,232,758,230,748,243,921,258,915,277,916,303,893,335,911,325,917,340,1002,280,37,289,118,297,1261,275,1312,271,1516,279,379,322,396,319,515,319,1181,327,47,337,47,357,277,365,1040,385,1335,361,708,385,812,398,829,393,842,391,46,414,49,428,42,439,199,438,226,445,298,452,1305,400,1306,411,1367,405,1394,424,1358,421,1386,440,668,442,689,463,703,476,695,479,703,497,767,440,954,440,1030,434,1050,459,1061,469,1284,450,1385,455,1350,457,1489,438,1495,463,1513,483,1522,490,1552,485,1565,468,44,489,179,490,49,510,59,521,156,503,164,520,134,522,818,482,789,500,831,505,908,490,920,490,930,473,951,489,962,512,567,501,594,497,601,511,622,530,1294,490,1297,499,1146,509,1102,526,1068,538,806,519,770,536,791,545,645,543,633,566,236,545,203,553,946,555,468,565,6,570,8,604,695,580,707,578,743,599,798,588,1458,545,1123,573,1062,599,1095,592,1127,590,901,604,926,624,964,645,11,650,861,664,881,671,944,672,982,671,935,691,1117,696,1436,680,1479,664,1,679,59,696,210,703,288,686,318,709,175,717,794,715,968,716,975,717,1050,733,1052,740,1342,736,1352,740,1451,725,1467,733,1484,735,1477,747,1538,734,1548,731,75,725,75,745,183,742,70,770,331,759,369,746,318,788,480,784,454,805,477,822,698,796,699,806,912,791,111,810,140,817,154,820,179,813,585,815,590,806,1076,810,1086,816,1044,823,1241,819,1314,830,1364,810,1411,803,1443,820,1465,810,1453,831,1393,838,985,847,1071,847,1101,857,1124,850,1330,857,1215,871,1403,869,1012,879,309,903,982,897,992,903,1008,920,1512,911,613,907,638,917,668,932,1100,905,1100,921,1085,928,1111,939,1155,924,1165,930,1239,919,1199,941,1383,938,1394,936,1062,948,1263,981,1253,955,1265,983,1257,1011,1318,962,1346,954,1360,952,1523,959,1292,990,365,947,282,954,245,961,250,961,294,986,1153,970,1145,992,1555,986,1568,990,1090,1012,1327,1038,1345,1030,1369,1024,1363,1045,690,1038,1033,1055,1043,1071,1205,1068,1135,1070,1120,1078,1312,1079,793,1100,736,1103,730,1105,714,1122,828,1118,1118,1100,1133,1112,1159,1131,1022,1117,1038,1120,1049,1108,1065,1106,1089,1115,1372,1234,1410,1252];
const real33 = [8,23,95,35,230,10,325,33,393,6,440,22,453,27,562,9,663,50,668,53,714,65,1052,43,1400,36,1380,65,1348,82,1432,80,1397,85,1412,90,183,91,279,87,302,113,359,101,366,99,524,110,538,139,697,98,699,113,709,131,715,157,1017,72,1012,92,1003,99,989,104,1061,108,1073,100,1083,102,1265,110,1288,103,1299,99,1407,120,1403,140,1407,155,1398,170,1392,183,1386,200,1381,222,246,123,286,148,290,157,311,157,263,160,414,133,871,177,298,182,303,190,219,195,250,213,698,215,691,233,675,237,136,245,199,257,173,267,24,263,476,252,481,260,491,264,503,270,1004,284,157,282,182,292,465,302,452,316,340,307,308,307,645,315,625,322,615,327,811,317,28,321,24,335,155,331,175,321,182,331,227,330,333,360,957,368,965,360,965,382,1161,375,58,427,130,437,399,435,516,461,527,462,90,462,138,473,116,484,51,489,97,517,146,536,150,564,329,536,735,497,766,483,762,490,750,505,777,516,757,517,733,536,755,550,968,553,437,628,333,667,42,694,44,703,660,716,92,751,254,747,275,763,656,769,681,757,692,764,31,843,70,851,124,999,295,1001,308,1001,325,1001,136,1210];
const fake33 = [830,31,830,45,670,108,246,47,230,59,285,66,294,61,151,106,175,106,304,104,415,139,23,146,40,159,49,167,71,171,140,174,134,245,176,243,44,291,56,302,69,304,48,326,666,307,122,406,66,432,198,403,219,395,238,411,198,432,212,431,226,438,274,441,284,438,260,466,261,491,93,468,38,716,234,712,633,794,467,821,136,1210,11,1000];
const fakeBox = [522,352,530,352,540,352,587,355,657,367,680,372,695,362,685,388,700,375,720,375,745,380,785,382,795,382,820,385,845,375,850,395,870,390,880,380,905,385,940,385,965,385,985,380,1000,370,1020,372,1040,378,1000,395,1015,405,985,400,1030,395,1060,392,970,390,1005,385,850,385,835,385,680,378];

const legendLabels = ["real", "fake"];
const colors = ["#ff0000", "#0000ff"];

// Each reading frame: where that crop of the figure sits, and what it read.
const frames = [
  { box: [130, 320, 780, 730, 1568, 1568], real: real11, fake: fake11 },
  { box: [910, 320, 780, 730, 1568, 1568], real: real12, fake: fake12 },
  { box: [1690, 320, 780, 730, 1568, 1568], real: real13, fake: fake13 },
  { box: [130, 1050, 780, 730, 1568, 1568], real: real21, fake: fake21 },
  { box: [910, 1050, 780, 730, 1568, 1568], real: real22, fake: fake22 },
  { box: [1690, 1050, 780, 730, 1568, 1568], real: real23, fake: fake23 },
  { box: [130, 1780, 780, 730, 1568, 1568], real: real31, fake: fake31 },
  { box: [910, 1780, 780, 730, 1568, 1568], real: real32, fake: fake32 },
  { box: [1690, 1780, 780, 730, 1568, 1568], real: real33, fake: fake33 },
  { box: [2300, 1320, 460, 240, 1380, 720], real: [], fake: fakeBox },
];

function place(kind: "real" | "fake") {
  const merged: [number, number][] = [];
  frames.forEach((f) => {
    const [x0, y0, w, h, dw, dh] = f.box;
    const sx = d3.scaleLinear().domain([0, dw]).range([x0, x0 + w]);
    const sy = d3.scaleLinear().domain([0, dh]).range([y0, y0 + h]);
    const tree = d3.quadtree<[number, number]>().addAll(merged);
    const vals = f[kind];
    for (let i = 0; i + 1 < vals.length; i += 2) {
      const p: [number, number] = [sx(vals[i]), sy(vals[i + 1])];
      // a point read twice along the seam of two crops is kept once
      if (!tree.find(p[0], p[1], 6)) merged.push(p);
    }
  });
  return merged;
}

export default function App() {
  const realPts = useMemo(() => place("real"), []);
  const fakePts = useMemo(() => place("fake"), []);
  const font = "'DejaVu Sans', sans-serif";
  return (
    <svg width={2800} height={2800} style={{ position: "absolute", left: 0, top: 0, background: "#fff" }}>
      <g fill={colors[0]} fillOpacity={0.76} stroke={colors[0]} strokeOpacity={0.76} strokeWidth={2.2}>
        {realPts.map((p, i) => <circle key={i} cx={p[0]} cy={p[1]} r={6.9} />)}
      </g>
      <g fill={colors[1]} fillOpacity={0.76} stroke={colors[1]} strokeOpacity={0.76} strokeWidth={2.2}>
        {fakePts.map((p, i) => <circle key={i} cx={p[0]} cy={p[1]} r={6.9} />)}
      </g>
      <rect x={2411} y={1366} width={305} height={156} fill="none" stroke="#000" strokeWidth={30} />
      <rect x={1993.5} y={93.5} width={715.5} height={403} rx={17} ry={17} fill="#fff" fillOpacity={0.8} stroke="#cccccc" strokeOpacity={0.8} strokeWidth={3.2} />
      {legendLabels.map((label, i) => (
        <g key={label}>
          <circle cx={2168} cy={194 + i * 183} r={25} fill={colors[i]} fillOpacity={0.7} stroke={colors[i]} strokeOpacity={0.7} strokeWidth={2.8} />
          <text x={2393} y={238 + i * 184} fontFamily={font} fontSize={125} fill="#000">{label}</text>
        </g>
      ))}
    </svg>
  );
}
